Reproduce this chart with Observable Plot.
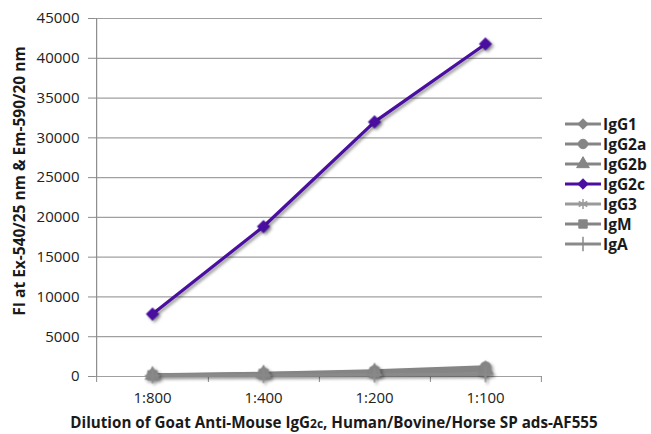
<!DOCTYPE html>
<html>
<head>
<meta charset="utf-8">
<script src="https://cdn.jsdelivr.net/npm/d3@7"></script>
<script src="https://cdn.jsdelivr.net/npm/@observablehq/plot@0.6"></script>
<style>
  body { margin: 0; background: #fff; }
  #wrap { position: relative; width: 651px; height: 434px; font-family: "Open Sans", sans-serif; }
  #wrap svg { overflow: visible; }
  g[aria-label="line"], g[aria-label="dot"] { filter: drop-shadow(2px 2px 1.5px rgba(0,0,0,0.4)); }
  #legend { position: absolute; left: 564px; top: 114px; }
  .item { display: flex; align-items: center; height: 20px; font-weight: bold; font-size: 15.5px; color: #1a1a1a; }
  .item svg { margin-right: 1px; }
</style>
</head>
<body>
<div id="wrap"></div>
<script>
const categories = ["1:800", "1:400", "1:200", "1:100"];
const seriesNames = ["IgG1", "IgG2a", "IgG2b", "IgG2c", "IgG3", "IgM", "IgA"];
const IgG1  = [150, 300, 500, 600];
const IgG2a = [200, 400, 700, 1200];
const IgG2b = [180, 350, 600, 900];
const IgG2c = [7850, 18850, 32000, 41800];
const IgG3  = [100, 200, 300, 400];
const IgM   = [150, 300, 500, 700];
const IgA   = [100, 150, 200, 250];
const seriesValues = [IgG1, IgG2a, IgG2b, IgG2c, IgG3, IgM, IgA];
const seriesColors = ["#858585", "#858585", "#858585", "#4a0fa0", "#9a9a9a", "#858585", "#8a8a8a"];
const seriesSymbols = ["diamond2", "circle", "triangle", "diamond2", "asterisk", "square", "plus"];
const yTicks = [0, 5000, 10000, 15000, 20000, 25000, 30000, 35000, 40000, 45000];

// draw order: gray series first, IgG2c on top
const order = [0, 1, 2, 4, 5, 6, 3];
const rows = [];
for (const i of order) {
  categories.forEach((c, j) => rows.push({series: seriesNames[i], cat: c, value: seriesValues[i][j]}));
}

const W = 651, H = 434, mL = 95, mR = 109, mT = 18, mB = 58;
const step = (W - mL - mR) / categories.length;

const chart = Plot.plot({
  width: W, height: H,
  marginLeft: mL, marginRight: mR, marginTop: mT, marginBottom: mB,
  style: {fontFamily: "Open Sans, sans-serif", fontSize: "15px", color: "#222", background: "white"},
  x: {type: "point", domain: categories, padding: 0.5, label: null},
  y: {domain: [0, 45000], label: null},
  color: {domain: seriesNames, range: seriesColors},
  symbol: {domain: seriesNames, range: seriesSymbols},
  marks: [
    Plot.gridY(yTicks, {stroke: "#a0a0a0", strokeOpacity: 1, strokeWidth: 1.2}),
    Plot.axisY(yTicks, {tickSize: 7, tickPadding: 9, tickFormat: d3.format("d"), stroke: "#8c8c8c", fill: "#222", fontSize: 15, label: null}),
    Plot.ruleX([categories[0]], {dx: -step / 2, stroke: "#8c8c8c", strokeWidth: 1.2}),
    Plot.ruleX(categories, {dx: step / 2, y1: 0, y2: 0, insetBottom: -6, stroke: "#8c8c8c"}),
    Plot.ruleX([categories[0]], {dx: -step / 2, y1: 0, y2: 0, insetBottom: -6, stroke: "#8c8c8c"}),
    Plot.axisX({tickSize: 0, tickPadding: 16, fill: "#222", fontSize: 15, label: null}),
    Plot.line(rows, {x: "cat", y: "value", z: "series", stroke: "series", strokeWidth: 3.2}),
    Plot.dot(rows, {x: "cat", y: "value", symbol: "series", fill: "series", stroke: "series", r: 5})
  ]
});

const svg = d3.select(chart);
svg.append("text")
  .attr("transform", `translate(25,${(mT + H - mB) / 2 - 16}) rotate(-90)`)
  .attr("text-anchor", "middle")
  .attr("font-weight", "bold").attr("font-size", 15.5).attr("fill", "#1a1a1a")
  .text("FI at Ex-540/25 nm & Em-590/20 nm");
const xt = svg.append("text")
  .attr("x", 334).attr("y", 428)
  .attr("text-anchor", "middle")
  .attr("font-weight", "bold").attr("font-size", 15.2).attr("fill", "#1a1a1a");
xt.append("tspan").text("Dilution of Goat Anti-Mouse IgG");
xt.append("tspan").attr("font-size", 12).text("2c");
xt.append("tspan").text(", Human/Bovine/Horse SP ads-AF555");

const wrap = document.getElementById("wrap");
wrap.appendChild(chart);

// legend
const legend = document.createElement("div");
legend.id = "legend";
seriesNames.forEach((name, i) => {
  const item = document.createElement("div");
  item.className = "item";
  const s = d3.create("svg").attr("width", 38).attr("height", 20);
  s.append("line").attr("x1", 1).attr("x2", 37).attr("y1", 10).attr("y2", 10)
    .attr("stroke", seriesColors[i]).attr("stroke-width", 3);
  const symMap = {diamond2: d3.symbolDiamond2, circle: d3.symbolCircle, triangle: d3.symbolTriangle,
    asterisk: d3.symbolAsterisk, square: d3.symbolSquare, plus: d3.symbolPlus};
  const sym = symMap[seriesSymbols[i]];
  const filled = seriesSymbols[i] !== "asterisk" && seriesSymbols[i] !== "plus";
  s.append("path").attr("d", d3.symbol(sym, 70)()).attr("transform", "translate(19,10)")
    .attr("fill", filled ? seriesColors[i] : "none").attr("stroke", seriesColors[i]).attr("stroke-width", filled ? 1 : 1.5);
  item.appendChild(s.node());
  const t = document.createElement("span");
  t.textContent = name;
  item.appendChild(t);
  legend.appendChild(item);
});
wrap.appendChild(legend);
</script>
</body>
</html>
